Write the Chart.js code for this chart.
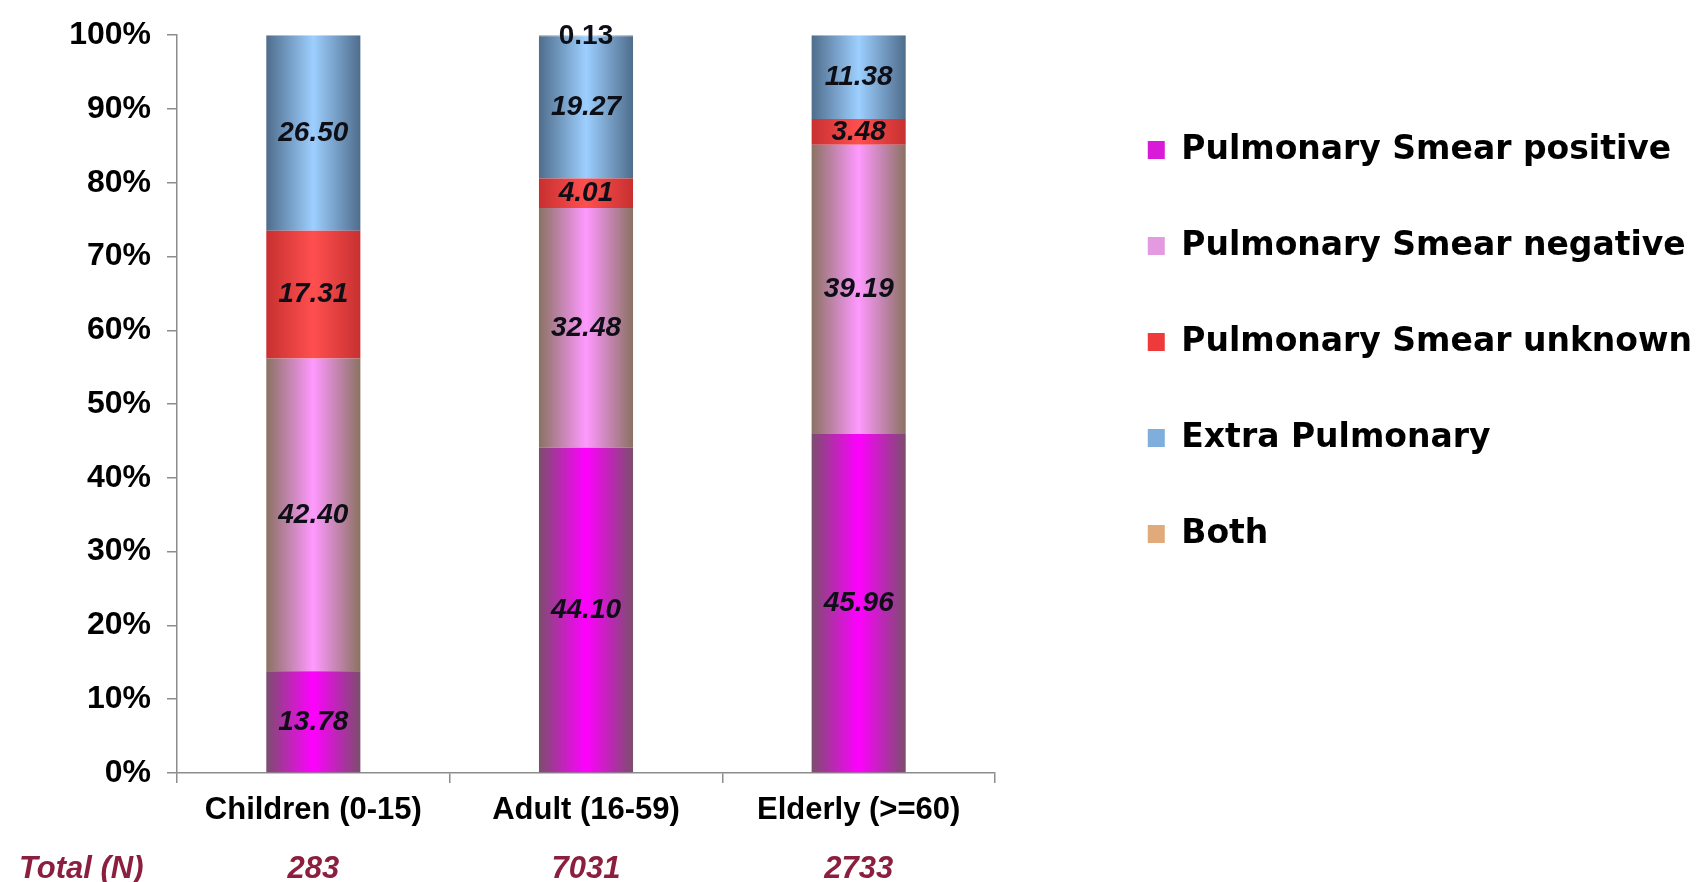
<!DOCTYPE html>
<html>
<head>
<meta charset="utf-8">
<script src="https://cdn.jsdelivr.net/npm/chart.js@4.4.1/dist/chart.umd.min.js"></script>
<style>
  html, body { margin: 0; padding: 0; background: #ffffff; }
  #wrap { width: 1702px; height: 882px; position: relative; }
</style>
</head>
<body>
<div id="wrap"><canvas id="c"></canvas></div>
<script>
// ---- data ----
const categories = ['Children (0-15)', 'Adult (16-59)', 'Elderly (>=60)'];
const totals = ['283', '7031', '2733'];
const totalLabel = 'Total (N)';
const seriesNames = ['Pulmonary Smear positive', 'Pulmonary Smear negative', 'Pulmonary Smear unknown', 'Extra Pulmonary', 'Both'];
const smearPositive = [13.78, 44.10, 45.96];
const smearNegative = [42.40, 32.48, 39.19];
const smearUnknown  = [17.31, 4.01, 3.48];
const extraPulmonary = [26.50, 19.27, 11.38];
const both = [0, 0.13, 0];
const yTicks = [0, 10, 20, 30, 40, 50, 60, 70, 80, 90, 100];

// ---- styles ----
const seriesValues = [smearPositive, smearNegative, smearUnknown, extraPulmonary, both];
const darkColors  = ['#7c4d6e', '#8a7262', '#c83030', '#4f6d8c', '#98785a'];
const lightColors = ['#ff00ff', '#ff99ff', '#ff4f4f', '#9dcfff', '#ffcc99'];
const legendColors = ['#d91ad9', '#e49ae0', '#ee3a3a', '#7faedc', '#e0aa7a'];
const BAR_PCT = 0.345;
const FONT = '"Liberation Sans", Arial, sans-serif';
const AXIS_COLOR = '#8c8c8c';

function barGradient(c, si) {
  const chart = c.chart;
  const xs = chart.scales && chart.scales.x;
  if (!xs || !chart.chartArea || c.dataIndex === undefined) return lightColors[si];
  const cx = xs.getPixelForValue(c.dataIndex);
  const half = (xs.width / categories.length) * BAR_PCT / 2;
  const g = chart.ctx.createLinearGradient(cx - half, 0, cx + half, 0);
  g.addColorStop(0, darkColors[si]);
  g.addColorStop(0.5, lightColors[si]);
  g.addColorStop(1, darkColors[si]);
  return g;
}

const datasets = seriesNames.map((name, si) => ({
  label: name,
  data: seriesValues[si],
  backgroundColor: (c) => barGradient(c, si),
  borderWidth: 0,
  barPercentage: BAR_PCT,
  categoryPercentage: 1.0
}));

const valueLabels = {
  id: 'valueLabels',
  afterDatasetsDraw(chart) {
    const ctx = chart.ctx;
    ctx.save();
    ctx.textAlign = 'center';
    ctx.textBaseline = 'middle';
    ctx.fillStyle = '#0e0e16';
    chart.data.datasets.forEach((ds, di) => {
      const meta = chart.getDatasetMeta(di);
      meta.data.forEach((el, i) => {
        const v = ds.data[i];
        if (!v) return;
        const p = el.getProps(['x', 'y', 'base'], true);
        const italic = di === 4 ? '' : 'italic ';
        ctx.font = italic + 'bold 28px ' + FONT;
        let yc = (p.y + p.base) / 2;
        if (di === 4) yc += 1;
        ctx.fillText(v.toFixed(2), p.x, yc);
      });
    });
    ctx.restore();
  }
};

const totalsRow = {
  id: 'totalsRow',
  afterDraw(chart) {
    const ctx = chart.ctx;
    const xs = chart.scales.x;
    const y = 869;
    ctx.save();
    ctx.fillStyle = '#8c1f3f';
    ctx.font = 'italic bold 31px ' + FONT;
    ctx.textBaseline = 'middle';
    ctx.textAlign = 'left';
    ctx.fillText(totalLabel, 19, y);
    ctx.textAlign = 'center';
    totals.forEach((t, i) => {
      ctx.fillText(t, xs.getPixelForValue(i), y);
    });
    ctx.restore();
  }
};

new Chart(document.getElementById('c'), {
  type: 'bar',
  data: { labels: categories, datasets: datasets },
  options: {
    responsive: true,
    maintainAspectRatio: false,
    animation: false,
    layout: { padding: { top: 31, right: 0, left: 0, bottom: 0 } },
    plugins: {
      tooltip: { enabled: false },
      legend: {
        position: 'right',
        align: 'start',
        maxWidth: 900,
        title: { display: true, text: ' ', font: { size: 13 }, padding: { top: 11, bottom: 13 } },
        labels: {
          color: '#000000',
          font: { family: '"DejaVu Sans", Verdana, sans-serif', weight: 'bold', size: 33 },
          boxWidth: 17,
          boxHeight: 18,
          padding: 63,
          generateLabels(chart) {
            return chart.data.datasets.map((ds, i) => ({
              text: ds.label,
              fillStyle: legendColors[i],
              strokeStyle: legendColors[i],
              fontColor: '#000000',
              lineWidth: 0,
              hidden: false,
              datasetIndex: i
            }));
          }
        }
      }
    },
    scales: {
      x: {
        stacked: true,
        afterFit(s) { s.height = 109; },
        border: { display: true, color: AXIS_COLOR, width: 1.5 },
        grid: { display: true, drawOnChartArea: false, drawTicks: true, tickLength: 10, color: AXIS_COLOR, lineWidth: 1.5, offset: true },
        ticks: { color: '#000000', font: { family: FONT, weight: 'bold', size: 31 }, padding: 9, maxRotation: 0 }
      },
      y: {
        stacked: true,
        min: 0,
        max: 100,
        afterFit(s) { s.width = 177; },
        afterBuildTicks(s) { s.ticks = yTicks.map(v => ({ value: v })); },
        border: { display: true, color: AXIS_COLOR, width: 1.5 },
        grid: { display: true, drawOnChartArea: false, drawTicks: true, tickLength: 10, color: AXIS_COLOR, lineWidth: 1.5 },
        ticks: { color: '#000000', font: { family: FONT, weight: 'bold', size: 32 }, padding: 16, callback: (v) => v + '%' }
      },
      yRight: {
        position: 'right',
        display: true,
        min: 0,
        max: 100,
        afterFit(s) {
          const ch = s.chart;
          const lw = ch.legend ? ch.legend.width : 0;
          s.width = Math.max(0, ch.width - lw - 995);
        },
        border: { display: false },
        grid: { display: false, drawTicks: false },
        ticks: { display: false }
      }
    }
  },
  plugins: [valueLabels, totalsRow]
});
</script>
</body>
</html>
